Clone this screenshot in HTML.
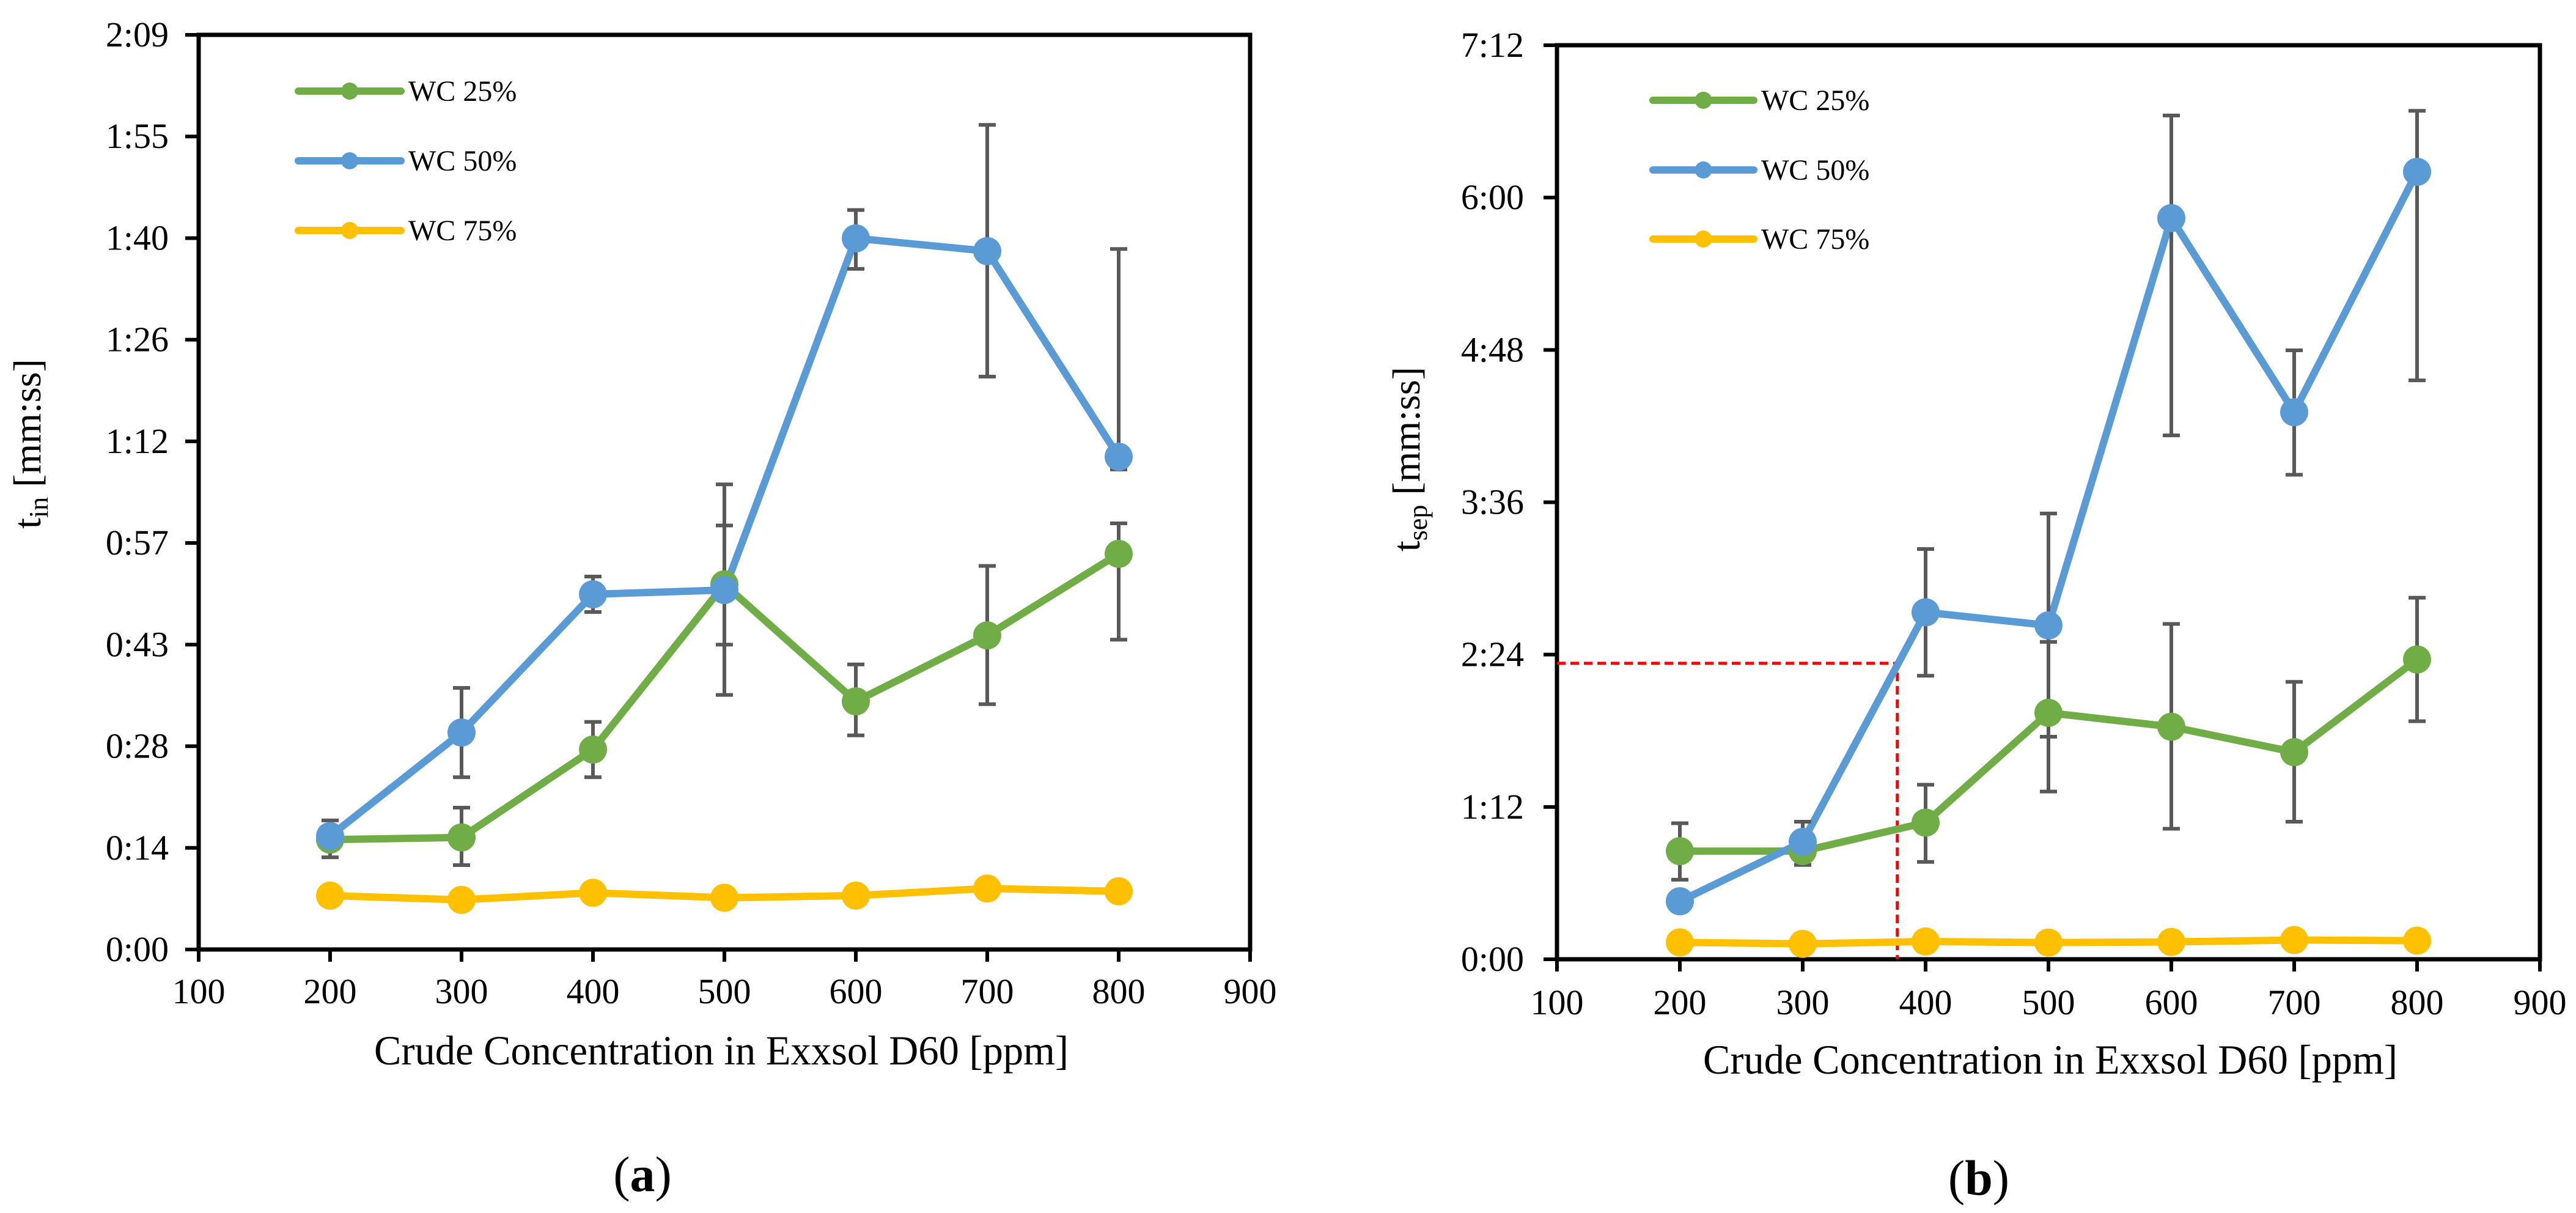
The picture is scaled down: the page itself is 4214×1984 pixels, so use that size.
<!DOCTYPE html>
<html><head><meta charset="utf-8"><style>
html,body{margin:0;padding:0;background:#fff;}
svg{display:block;font-family:"Liberation Serif",serif;}
</style></head><body>
<svg id="fig" width="4214" height="1984" viewBox="0 0 4214 1984" xmlns="http://www.w3.org/2000/svg"></svg>
<script>
// ---- data ----
const categories = [200, 300, 400, 500, 600, 700, 800];
const seriesNames = ["WC 25%", "WC 50%", "WC 75%"];
const seriesColors = ["#70AD47", "#5B9BD5", "#FFC000"];
// chart (a): t_in in seconds
const aGreen = [15.5, 15.8, 28.2, 51.5, 35.0, 44.3, 55.8];
const aGreenHi = [16.5, 20.0, 32.1, 59.8, 40.2, 54.1, 60.1];
const aGreenLo = [14.5, 11.9, 24.3, 43.0, 30.2, 34.6, 43.7];
const aBlue = [16.0, 30.6, 50.1, 50.7, 100.3, 98.5, 69.5];
const aBlueHi = [18.2, 36.9, 52.6, 65.6, 104.3, 116.3, 98.8];
const aBlueLo = [13.0, 24.3, 47.6, 35.9, 96.0, 80.8, 67.7];
const aYellow = [7.6, 7.0, 8.0, 7.3, 7.6, 8.6, 8.2];
const aTicks = ["0:00","0:14","0:28","0:43","0:57","1:12","1:26","1:40","1:55","2:09"];
const aYMax = 129;
// chart (b): t_sep in seconds
const bGreen = [51.1, 51.1, 64.6, 116.5, 109.9, 97.9, 141.7];
const bGreenHi = [64.3, 58.0, 82.5, 150.0, 158.5, 131.1, 170.9];
const bGreenLo = [37.6, 44.6, 46.0, 79.3, 61.7, 65.0, 112.5];
const bBlue = [27.4, 55.5, 164.0, 157.8, 350.3, 258.6, 372.2];
const bBlueHi = [27.4, 65.0, 193.9, 210.7, 398.8, 287.8, 401.0];
const bBlueLo = [27.4, 44.6, 134.0, 105.2, 247.6, 229.0, 273.6];
const bYellow = [8.0, 7.3, 8.4, 7.9, 8.2, 9.1, 8.8];
const bTicks = ["0:00","1:12","2:24","3:36","4:48","6:00","7:12"];
const bYMax = 432;
const xTicks = [100, 200, 300, 400, 500, 600, 700, 800, 900];
const refPoint = [377, 139.9];

const NS = "http://www.w3.org/2000/svg";
const svg = document.getElementById("fig");
function mk(tag, attrs, parent, txt){
  const e = document.createElementNS(NS, tag);
  for (const k in attrs) e.setAttribute(k, attrs[k]);
  if (txt !== undefined) e.textContent = txt;
  (parent || svg).appendChild(e);
  return e;
}

function chart(cfg){
  const g = mk("g", {});
  
  
  const L = cfg.L, R = cfg.R, T = cfg.T, B = cfg.B;
  const xs = v => L + (v - 100) / 800 * (R - L);
  const ys = v => B - v / cfg.ymax * (B - T);
  const fr = mk("rect", {x:L, y:T, width:R-L, height:B-T, fill:"none", stroke:"#000", "stroke-width":7}, g);
  
  
  cfg.ticks.forEach((t, i) => {
    const v = i * cfg.ymax / (cfg.ticks.length - 1);
    const y = ys(v);
    mk("line", {x1:L-22, x2:L, y1:y, y2:y, stroke:"#000", "stroke-width":6}, g);
    const tx = mk("text", {x:cfg.ylabR, y:y+19, "text-anchor":"end", "font-size":58}, g, t);
    
    
  });
  xTicks.forEach(v => {
    const x = xs(v);
    mk("line", {x1:x, x2:x, y1:B, y2:B+20, stroke:"#000", "stroke-width":6}, g);
    const tx = mk("text", {x:x, y:cfg.xlabY+20, "text-anchor":"middle", "font-size":58}, g, String(v));
    
    
  });
  const xt = mk("text", {x:cfg.xTitleX, y:cfg.xTitleBase, "text-anchor":"middle", "font-size":68, textLength:1136, lengthAdjust:"spacingAndGlyphs"}, g, "Crude Concentration in Exxsol D60 [ppm]");
  
  
  const yt = mk("text", {x:0, y:0, "text-anchor":"middle", "font-size":64, transform:`translate(${cfg.yTitleBase},${cfg.yTitleY}) rotate(-90)`}, g);
  
  
  mk("tspan", {}, yt, "t");
  mk("tspan", {"font-size":44, dy:12}, yt, cfg.sub);
  mk("tspan", {dy:-12}, yt, " [mm:ss]");
  const pl = mk("text", {x:cfg.panelX, y:cfg.panelBase, "text-anchor":"middle", "font-size":82}, g);
  
  
  mk("tspan", {}, pl, "(");
  mk("tspan", {"font-weight":"bold"}, pl, cfg.panel);
  mk("tspan", {}, pl, ")");
  if (cfg.ref){
    const rx = xs(cfg.ref[0]), ry = ys(cfg.ref[1]);
    const rl = mk("polyline", {points:`${L},${ry} ${rx},${ry} ${rx},${B}`, fill:"none", stroke:"#FF0000", "stroke-width":5, "stroke-dasharray":"14,8"}, g);
    
    
  }
  const series = cfg.series;
  series.forEach((s, si) => {
    const pts = s.vals.map((v, i) => xs(categories[i]) + "," + ys(v)).join(" ");
    const pl2 = mk("polyline", {points:pts, fill:"none", stroke:seriesColors[si], "stroke-width":12, "stroke-linejoin":"round"}, g);
    
    
  });
  series.forEach(s => {
    if (!s.hi) return;
    s.vals.forEach((v, i) => {
      if (s.hi[i] === s.lo[i]) return;
      const x = xs(categories[i]), y1 = ys(s.hi[i]), y2 = ys(s.lo[i]);
      const eb = mk("path", {d:`M${x},${y1}V${y2}M${x-14},${y1}H${x+14}M${x-14},${y2}H${x+14}`, stroke:"#595959", "stroke-width":6, fill:"none"}, g);
      
      
    });
  });
  series.forEach((s, si) => {
    s.vals.forEach((v, i) => {
      const c = mk("circle", {cx:xs(categories[i]), cy:ys(v), r:23, fill:seriesColors[si]}, g);
      
      
    });
  });
  seriesNames.forEach((n, i) => {
    const y = cfg.legY[i];
    const lg = mk("g", {}, g);
    
    
    mk("line", {x1:cfg.legX1, x2:cfg.legX2, y1:y, y2:y, stroke:seriesColors[i], "stroke-width":12, "stroke-linecap":"round"}, lg);
    mk("circle", {cx:(cfg.legX1+cfg.legX2)/2, cy:y, r:14, fill:seriesColors[i]}, lg);
    mk("text", {x:cfg.legX2+12, y:y+16, "font-size":48}, lg, n);
  });
}

chart({name:"chart-a", L:325, R:2045, T:57, B:1553, ymax:aYMax, ticks:aTicks, ylabR:276,
  xlabY:1621, xTitleX:1180, xTitleBase:1741, yTitleBase:66, yTitleY:726, sub:"in",
  panel:"a", panelX:1051, panelBase:1948, legX1:488, legX2:656, legY:[149,263,377],
  series:[{vals:aGreen, hi:aGreenHi, lo:aGreenLo},{vals:aBlue, hi:aBlueHi, lo:aBlueLo},{vals:aYellow}]});
chart({name:"chart-b", L:2547, R:4155, T:74, B:1569, ymax:bYMax, ticks:bTicks, ylabR:2493,
  xlabY:1639, xTitleX:3354, xTitleBase:1756, yTitleBase:2322, yTitleY:751, sub:"sep",
  panel:"b", panelX:3237, panelBase:1954, legX1:2704, legX2:2869, legY:[164,278,391], ref:refPoint,
  series:[{vals:bGreen, hi:bGreenHi, lo:bGreenLo},{vals:bBlue, hi:bBlueHi, lo:bBlueLo},{vals:bYellow}]});
</script>
</body></html>
